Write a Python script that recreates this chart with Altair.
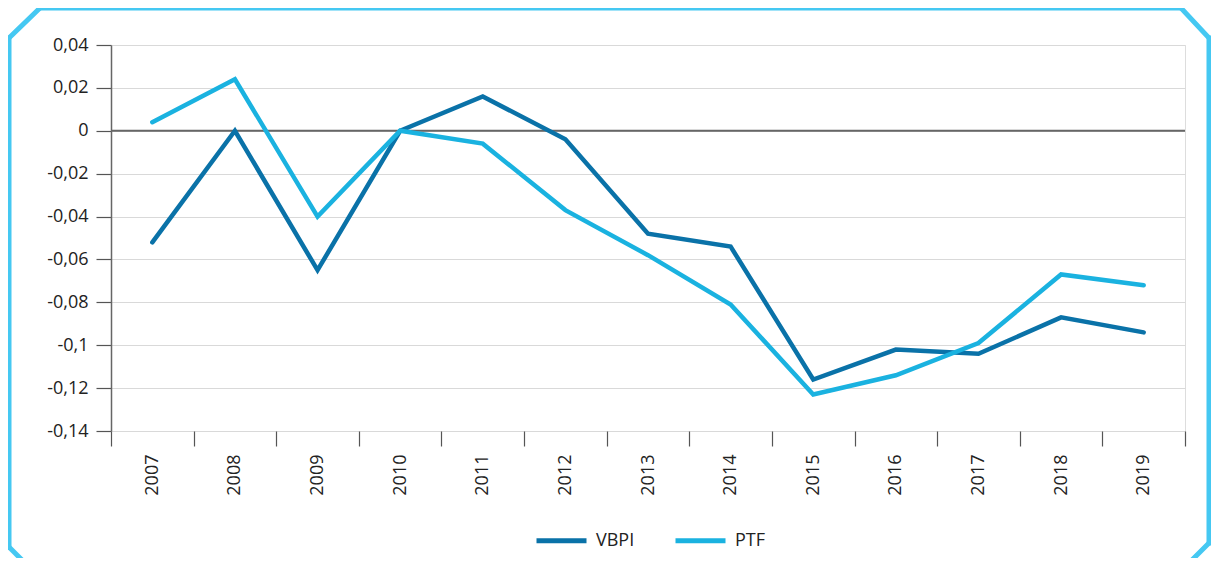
import altair as alt
import pandas as pd

years = [str(y) for y in range(2007, 2020)]
vbpi = [-0.052, 0.0, -0.065, 0.0, 0.016, -0.004, -0.048, -0.054, -0.116, -0.102, -0.104, -0.087, -0.094]
ptf = [0.004, 0.024, -0.040, 0.0, -0.006, -0.037, -0.058, -0.081, -0.123, -0.114, -0.099, -0.067, -0.072]
series = ["VBPI", "PTF"]
colors = ["#0a72a8", "#1ab2e0"]
y_ticks = [-0.14, -0.12, -0.1, -0.08, -0.06, -0.04, -0.02, 0, 0.02, 0.04]

rows = []
for name, vals in zip(series, [vbpi, ptf]):
    for yr, v in zip(years, vals):
        rows.append({"year": yr, "series": name, "value": v})
df = pd.DataFrame(rows)

FONT = "Open Sans"
FS = 18
W, H = 1074, 386

x_enc = alt.X(
    "year:O",
    sort=years,
    bandPosition=0.5,
    scale=alt.Scale(type="band", paddingInner=0, paddingOuter=0),
    axis=alt.Axis(
        title=None, labelAngle=-90, tickBand="extent", domain=False,
        ticks=True, tickSize=15, tickColor="#555", tickWidth=1.2,
        labelPadding=8, labelFontSize=FS, labelColor="#222", labelFont=FONT,
        grid=False,
    ),
)
y_enc = alt.Y(
    "value:Q",
    scale=alt.Scale(domain=[-0.14, 0.04], nice=False, zero=False),
    axis=alt.Axis(
        title=None, values=y_ticks,
        labelExpr="replace(toString(datum.value), '.', ',')",
        domain=True, domainColor="#666", domainWidth=1.5,
        tickSize=15, tickColor="#555", tickWidth=1.2,
        labelPadding=8, labelFontSize=FS, labelColor="#222", labelFont=FONT,
        grid=True, gridColor="#d9d9d9", gridWidth=1.2,
    ),
)

lines = alt.Chart(df).mark_line(strokeWidth=4.5, strokeCap="round", strokeJoin="miter").encode(
    x=x_enc,
    y=y_enc,
    color=alt.Color(
        "series:N",
        scale=alt.Scale(domain=series, range=colors),
        legend=alt.Legend(
            title=None, orient="none", direction="horizontal",
            legendX=423, legendY=468,
            symbolType="stroke", symbolSize=2500, symbolStrokeWidth=5,
            labelFontSize=FS, labelFont=FONT, labelColor="#222",
            labelOffset=7, columnPadding=30, padding=0,
        ),
    ),
    detail="series:N",
)

zero = alt.Chart(alt.Data(values=[{"v": 0}])).mark_rule(color="#666", strokeWidth=2).encode(
    y=alt.Y("v:Q")
)

FRAME_COLOR = "#45c8f2"
segments = [
    (-71, -37, 1070, -37),
    (1070, -37, 1098, -7),
    (1098, -7, 1098, 498),
    (1098, 498, 1064, 532),
    (-102, -7, -102, 502),
    (-102, -7, -71, -37),
    (-102, 502, -72, 532),
]
frame_layers = []
for (x1, y1, x2, y2) in segments:
    frame_layers.append(
        alt.Chart(alt.Data(values=[{}])).mark_rule(
            color=FRAME_COLOR, strokeWidth=5, strokeCap="square"
        ).encode(
            x=alt.value(x1), y=alt.value(y1), x2=alt.value(x2), y2=alt.value(y2)
        )
    )

chart = alt.layer(zero, lines, *frame_layers).properties(
    width=W, height=H,
    autosize=alt.AutoSizeParams(type="none"),
    padding={"left": 103, "top": 37, "right": 26, "bottom": 127},
).configure_view(stroke="#d9d9d9", strokeWidth=1.2).configure(background="white")

chart.save("out.html", embed_options={"renderer": "svg", "actions": False})
